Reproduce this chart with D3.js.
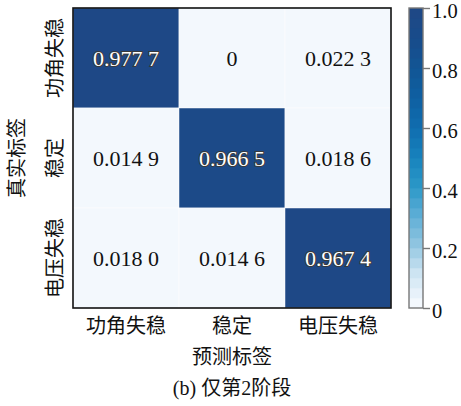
<!DOCTYPE html>
<html>
<head>
<meta charset="utf-8">
<script src="https://cdn.jsdelivr.net/npm/d3@7/dist/d3.min.js"></script>
<style>
  html, body { margin: 0; padding: 0; background: #fff; }
  svg { display: block; }
  .latin { font-family: "Liberation Serif", "Times New Roman", serif; }
  .cjk { font-family: "Liberation Serif", "Noto Sans CJK SC", serif; }
</style>
</head>
<body>
<svg id="chart" width="461" height="406"></svg>
<script>
// Confusion matrix: rows = true label, columns = predicted label
const classes = ["功角失稳", "稳定", "电压失稳"];
const rowAngle = [0.9777, 0, 0.0223];
const rowStable = [0.0149, 0.9665, 0.0186];
const rowVoltage = [0.0180, 0.0146, 0.9674];
const matrix = [rowAngle, rowStable, rowVoltage];

const colorbarTicks = [0, 0.2, 0.4, 0.6, 0.8, 1.0];
const colorbarTickLabels = ["0", "0.2", "0.4", "0.6", "0.8", "1.0"];

const xTitle = "预测标签";
const yTitle = "真实标签";
const caption = "(b) 仅第2阶段";

// Blue colour ramp, sampled in discrete steps like a listed colormap
const rampStops = [0, 0.1, 0.2, 0.3, 0.4, 0.5, 0.6, 0.7, 0.8, 0.9, 1.0];
const rampColors = ["#f3f8fd", "#cfe5f3", "#92c6e1", "#5eaed6", "#2c98c8", "#1783bd",
                    "#106eb0", "#0f61a3", "#115696", "#174d8c", "#1e4886"];
const nSteps = 30;

const svg = d3.select("#chart");

const plot = { left: 73, right: 391, top: 8, bottom: 308 };
const cb = { left: 409, right: 423, top: 8, bottom: 308 };

const ramp = d3.scaleLinear().domain(rampStops).range(rampColors).interpolate(d3.interpolateRgb);
const quant = v => {
  const k = Math.max(0, Math.min(nSteps - 1, Math.floor(v * nSteps)));
  return ramp(k / (nSteps - 1));
};

const x = d3.scaleBand().domain(d3.range(classes.length)).range([plot.left, plot.right]);
const y = d3.scaleBand().domain(d3.range(classes.length)).range([plot.top, plot.bottom]);

// Cells
const cells = [];
matrix.forEach((row, i) => row.forEach((v, j) => cells.push({ i, j, v })));

svg.append("g").selectAll("rect").data(cells).join("rect")
  .attr("x", d => x(d.j))
  .attr("y", d => y(d.i))
  .attr("width", x.bandwidth())
  .attr("height", y.bandwidth())
  .attr("fill", d => quant(d.v))
  .attr("stroke", "rgba(255,255,255,0.6)")
  .attr("stroke-width", 0.8);

// Value labels, grouped with a space after the third decimal
const fmtValue = v => {
  if (v === 0) return "0";
  const s = v.toFixed(4);
  return s.slice(0, 5) + " " + s.slice(5);
};

svg.append("g").selectAll("text").data(cells).join("text")
  .attr("class", "latin")
  .attr("x", d => x(d.j) + x.bandwidth() / 2)
  .attr("y", d => y(d.i) + y.bandwidth() / 2)
  .attr("text-anchor", "middle")
  .attr("dominant-baseline", "central")
  .attr("font-size", 22)
  .attr("fill", d => d.v > 0.5 ? "#ffffff" : "#111111")
  .attr("stroke", d => d.v > 0.5 ? "#3a3a3a" : "none")
  .attr("stroke-width", 2)
  .attr("paint-order", "stroke")
  .text(d => fmtValue(d.v));

// Frame
svg.append("rect")
  .attr("x", plot.left).attr("y", plot.top)
  .attr("width", plot.right - plot.left).attr("height", plot.bottom - plot.top)
  .attr("fill", "none").attr("stroke", "#111").attr("stroke-width", 1.6);

// Category axes
const xAxis = d3.axisBottom(x).tickSize(0).tickPadding(8).tickFormat(i => classes[i]);
const gx = svg.append("g").attr("transform", `translate(0,${plot.bottom})`).call(xAxis);
gx.select(".domain").remove();
gx.selectAll("text").attr("class", "cjk").attr("font-size", 20).attr("fill", "#111")
  .attr("dy", null).attr("y", 18).attr("dominant-baseline", "central");

const gy = svg.append("g");
gy.selectAll("text").data(d3.range(classes.length)).join("text")
  .attr("class", "cjk")
  .attr("font-size", 20)
  .attr("fill", "#111")
  .attr("text-anchor", "middle")
  .attr("dominant-baseline", "central")
  .attr("transform", i => `translate(55,${y(i) + y.bandwidth() / 2}) rotate(-90)`)
  .text(i => classes[i]);

// Axis titles and caption
svg.append("text").attr("class", "cjk")
  .attr("x", (plot.left + plot.right) / 2).attr("y", 357)
  .attr("text-anchor", "middle").attr("dominant-baseline", "central")
  .attr("font-size", 20).attr("fill", "#111").text(xTitle);

svg.append("text").attr("class", "cjk")
  .attr("transform", `translate(17,${(plot.top + plot.bottom) / 2}) rotate(-90)`)
  .attr("text-anchor", "middle").attr("dominant-baseline", "central")
  .attr("font-size", 20).attr("fill", "#111").text(yTitle);

svg.append("text").attr("class", "cjk")
  .attr("x", 232).attr("y", 388)
  .attr("text-anchor", "middle").attr("dominant-baseline", "central")
  .attr("font-size", 20).attr("fill", "#111").text(caption);

// Colour bar
const cbScale = d3.scaleLinear().domain([0, 1]).range([cb.bottom, cb.top]);
const steps = d3.range(nSteps).map(k => k / nSteps);
svg.append("g").selectAll("rect").data(steps).join("rect")
  .attr("x", cb.left)
  .attr("y", d => cbScale(d + 1 / nSteps))
  .attr("width", cb.right - cb.left)
  .attr("height", d => cbScale(d) - cbScale(d + 1 / nSteps) + 0.3)
  .attr("fill", d => quant(d + 0.5 / nSteps));

svg.append("rect")
  .attr("x", cb.left).attr("y", cb.top)
  .attr("width", cb.right - cb.left).attr("height", cb.bottom - cb.top)
  .attr("fill", "none").attr("stroke", "#777").attr("stroke-width", 1.4);

const cbAxis = d3.axisRight(cbScale).tickValues(colorbarTicks).tickSize(7).tickPadding(2)
  .tickFormat((d, i) => colorbarTickLabels[i]);
const gcb = svg.append("g").attr("transform", `translate(${cb.right},0)`).call(cbAxis);
gcb.select(".domain").remove();
gcb.selectAll("line").attr("stroke", "#777").attr("stroke-width", 1.4);
gcb.selectAll("text").attr("class", "latin").attr("font-size", 20.5).attr("fill", "#111")
  .attr("dy", null).attr("y", 9.5);
</script>
</body>
</html>
